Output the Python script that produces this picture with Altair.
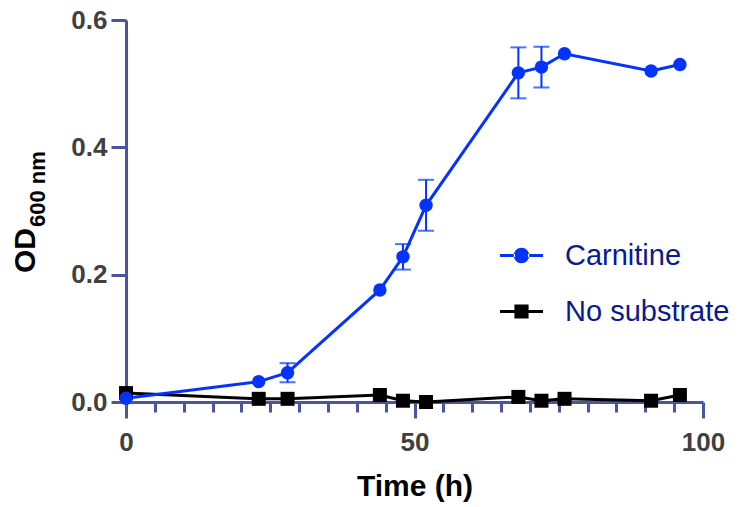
import altair as alt
import pandas as pd

time_h = [0, 23, 28, 44, 48, 52, 68, 72, 76, 91, 96]
carnitine = [0.006, 0.032, 0.046, 0.176, 0.228, 0.309, 0.517, 0.526, 0.547, 0.520, 0.530]
carnitine_err = [0.0, 0.0, 0.015, 0.0, 0.02, 0.04, 0.04, 0.032, 0.0, 0.0, 0.0]
no_substrate = [0.014, 0.005, 0.005, 0.011, 0.002, 0.0, 0.008, 0.002, 0.005, 0.002, 0.011]
series_names = ["Carnitine", "No substrate"]

BLUE = "#0433ff"
BLACK = "#000000"
AXIS = "#4a54a0"
FONT = "Liberation Sans"

carn = pd.DataFrame({"t": time_h, "od": carnitine, "err": carnitine_err, "series": "Carnitine"})
carn["lo"] = carn["od"] - carn["err"]
carn["hi"] = carn["od"] + carn["err"]
nosub = pd.DataFrame({"t": time_h, "od": no_substrate, "series": "No substrate"})
both = pd.concat([carn[["t", "od", "series"]], nosub], ignore_index=True)

xscale = alt.Scale(domain=[0, 100], nice=False, zero=False)
yscale = alt.Scale(domain=[0, 0.6], nice=False)

xaxis = alt.Axis(
    values=list(range(0, 101, 5)),
    labelExpr="datum.value % 50 === 0 ? datum.label : ''",
    tickSize={"condition": {"test": "datum.value % 50 === 0", "value": 16}, "value": 10},
    labelPadding=11,
    labelOverlap=False,
    labelFlush=False,
    title="Time (h)",
    titleFontSize=30,
    titleFontWeight="bold",
    titleColor="#000000",
    titlePadding=16,
)
yaxis = alt.Axis(values=[0, 0.2, 0.4, 0.6], format=".1f", tickSize=15, labelPadding=4, title=None,
                 labelFlush=False)

X = alt.X("t:Q", scale=xscale, axis=xaxis)
Y = alt.Y("od:Q", scale=yscale, axis=yaxis)

line_blue = alt.Chart(carn).mark_line(strokeWidth=3, color=BLUE).encode(x=X, y=Y)
line_black = alt.Chart(nosub).mark_line(strokeWidth=3, color=BLACK).encode(x=X, y=Y)

err_data = carn[carn["err"] > 0]
err_rule = alt.Chart(err_data).mark_rule(color=BLUE, strokeWidth=2).encode(x=X, y="lo:Q", y2="hi:Q")
cap_lo = alt.Chart(err_data).mark_tick(color=BLUE, orient="horizontal", size=16, thickness=2).encode(x=X, y=alt.Y("lo:Q", scale=yscale, axis=yaxis))
cap_hi = alt.Chart(err_data).mark_tick(color=BLUE, orient="horizontal", size=16, thickness=2).encode(x=X, y=alt.Y("hi:Q", scale=yscale, axis=yaxis))

pts_black = alt.Chart(nosub).mark_point(shape="square", filled=True, size=196, opacity=1, color=BLACK).encode(x=X, y=Y)
pts_blue = alt.Chart(carn).mark_point(shape="circle", filled=True, size=180, opacity=1, color=BLUE).encode(x=X, y=Y)

circ_sym = ("M-1,-0.07L-0.3,-0.07L-0.3,0.07L-1,0.07Z M0.3,-0.07L1,-0.07L1,0.07L0.3,0.07Z "
            "M-0.36,0A0.36,0.36,0,1,0,0.36,0A0.36,0.36,0,1,0,-0.36,0Z")
sq_sym = ("M-1,-0.07L-0.33,-0.07L-0.33,0.07L-1,0.07Z M0.33,-0.07L1,-0.07L1,0.07L0.33,0.07Z "
          "M-0.33,-0.33L0.33,-0.33L0.33,0.33L-0.33,0.33Z")

leg = alt.Legend(title=None, orient="none", legendX=374, legendY=214)
legend_layer = alt.Chart(both).transform_filter("false").mark_point(filled=True, opacity=1).encode(
    x=X, y=Y,
    color=alt.Color("series:N", scale=alt.Scale(domain=series_names, range=[BLUE, BLACK]), legend=leg),
    shape=alt.Shape("series:N", scale=alt.Scale(domain=series_names, range=[circ_sym, sq_sym]), legend=leg),
)

blank = alt.Data(values=[{}])
od_text = alt.Chart(blank).mark_text(text="OD", angle=270, align="left", baseline="alphabetic",
                                     fontSize=30, fontWeight="bold", font=FONT, color="#000000").encode(
    x=alt.value(-91), y=alt.value(253))
sub_text = alt.Chart(blank).mark_text(text="600 nm", angle=270, align="left", baseline="alphabetic",
                                      fontSize=22, fontWeight="bold", font=FONT, color="#000000").encode(
    x=alt.value(-81), y=alt.value(207))

chart = alt.layer(
    line_black, line_blue, err_rule, cap_lo, cap_hi, pts_black, pts_blue, legend_layer, od_text, sub_text
).properties(
    width=577, height=382,
    autosize=alt.AutoSizeParams(type="none"),
    padding={"left": 118, "top": 12, "right": 32, "bottom": 105},
).configure_view(stroke=None).configure_axis(
    domainColor=AXIS, domainWidth=3, tickColor=AXIS, tickWidth=3, grid=False,
    labelFont=FONT, labelFontSize=26, labelFontWeight="bold", labelColor="#404040",
    titleFont=FONT,
).configure_legend(
    symbolSize=1849, symbolStrokeWidth=0, labelFont=FONT, labelFontSize=29,
    labelColor="#0a1a8f", labelOffset=22, rowPadding=19, labelLimit=300,
)

chart.save("out.html", embed_options={"renderer": "svg", "actions": False})
